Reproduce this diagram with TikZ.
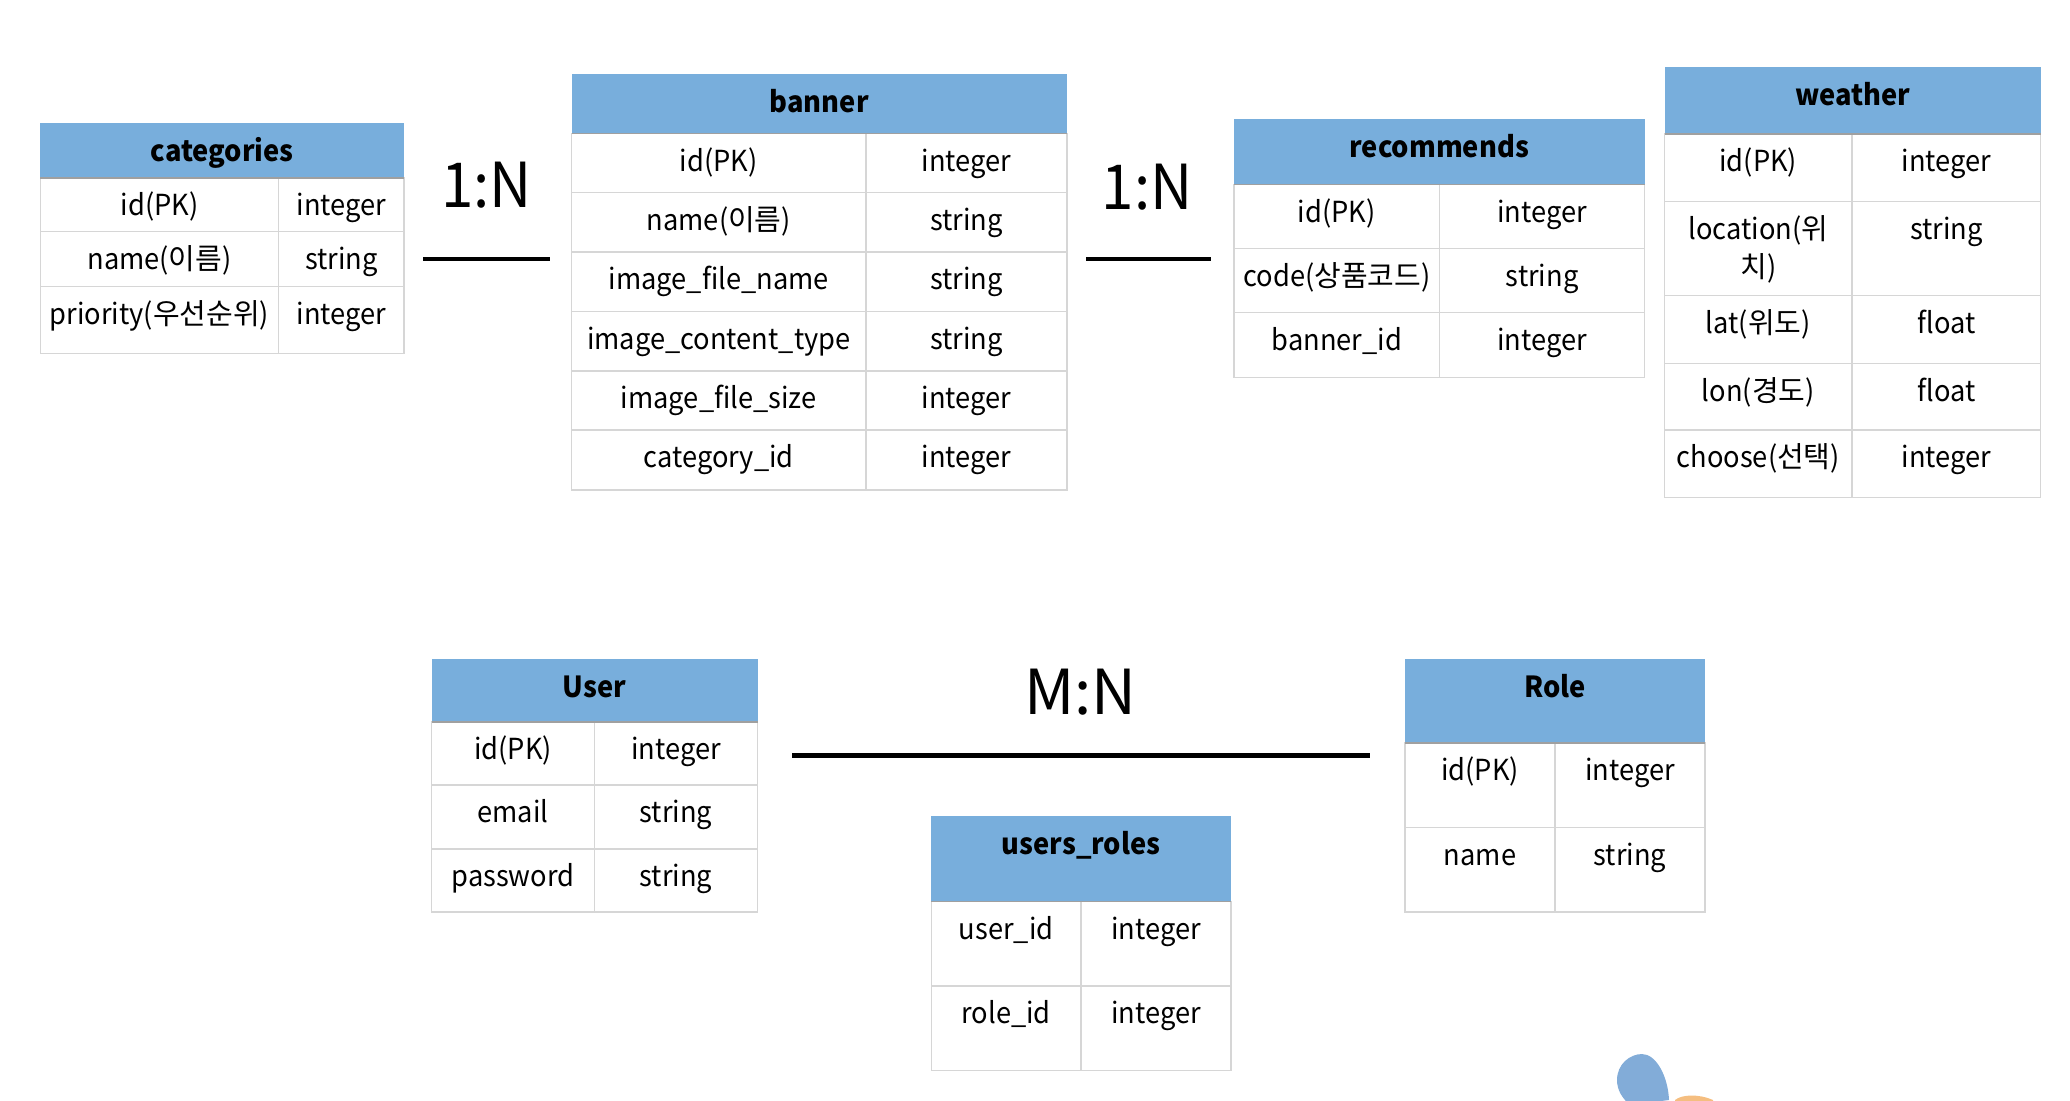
\documentclass[tikz,border=0pt]{standalone}
\usepackage{fontspec}
\setmainfont[FakeStretch=0.94]{Noto Sans CJK KR}
\newfontfamily\hangul{Noto Sans CJK KR}
\definecolor{headblue}{HTML}{78AEDC}
\definecolor{gridgray}{HTML}{D6D6D6}
\definecolor{headgray}{HTML}{A0A0A0}
\definecolor{petalblue}{HTML}{82ACD8}
\definecolor{petalorange}{HTML}{F5BE80}
\tikzset{
 gridline/.style={draw=gridgray,line width=0.6pt},
 headline/.style={draw=headgray,line width=0.8pt},
 celltext/.style={anchor=base,inner sep=0pt,font=\fontsize{14.5}{19.3}\selectfont},
 headtext/.style={anchor=base,inner sep=0pt,font=\fontsize{14.5}{19.3}\selectfont\bfseries},
 ratiotext/.style={anchor=base,inner sep=0pt,font=\fontsize{31}{36}\selectfont},
 ratioline/.style={line width=2.2pt,black}
}
%table: name, title, x left, x split, x right, y top, y header, rows
\newcommand{\dbtable}[8]{
 \foreach \ya/\yb/\fa/\fb [count=\n] in {#8}{
  \draw[gridline](#3,\ya)rectangle(#4,\yb);
  \draw[gridline](#4,\ya)rectangle(#5,\yb);
  \node[celltext](#1-\n-a) at ({(#3+#4)/2},\ya+37.7){\fa};
  \node[celltext](#1-\n-b) at ({(#4+#5)/2},\ya+37.7){\fb};
 }
 \fill[headblue](#3,#6)rectangle(#5,#7);
 \draw[headline](#3,#7)--(#5,#7);
 \node[headtext](#1-title) at ({(#3+#5)/2},#6+38.5){#2};
}
\begin{document}
\begin{tikzpicture}[x=0.5pt,y=-0.5pt]
\useasboundingbox(0,0)rectangle(2070,1100);
%top row
\dbtable{categories}{categories}{40.4}{278.6}{404}{123.3}{177.7}{
 177.7/231.7/id(PK)/integer,
 231.7/286.7/name({\hangul 이름})/string,
 286.7/353.3/priority({\hangul 우선순위})/integer}
\dbtable{banner}{banner}{571.6}{866}{1067}{73.5}{133.3}{
 133.3/192.7/id(PK)/integer,
 192.7/252/name({\hangul 이름})/string,
 252/311.7/image\_file\_name/string,
 311.7/371/image\_content\_type/string,
 371/430/image\_file\_size/integer,
 430/490/category\_id/integer}
\dbtable{recommends}{recommends}{1233.9}{1439.7}{1644.5}{119.3}{184.3}{
 184.3/248.3/id(PK)/integer,
 248.3/312.3/code({\hangul 상품코드})/string,
 312.3/377.3/banner\_id/integer}
\dbtable{weather}{weather}{1664.5}{1852}{2040.7}{67.3}{134}{
 134/201.3/id(PK)/integer,
 201.3/295.7/{\begin{tabular}[t]{@{}c@{}}location({\hangul 위}\\{\hangul 치})\end{tabular}}/string,
 295.7/363.3/lat({\hangul 위도})/float,
 363.3/430/lon({\hangul 경도})/float,
 430/497.3/choose({\hangul 선택})/integer}
%bottom row
\dbtable{user}{User}{431.5}{594.5}{757.5}{658.5}{722}{
 722/785/id(PK)/integer,
 785/849/email/string,
 849/912/password/string}
\dbtable{role}{Role}{1405}{1555}{1705}{658.5}{743}{
 743/827.6/id(PK)/integer,
 827.6/912/name/string}
\dbtable{usersroles}{users\_roles}{931.3}{1081}{1231}{816.4}{901.6}{
 901.6/986/user\_id/integer,
 986/1070.7/role\_id/integer}
%ratios
\node[ratiotext](ratioa) at (486.5,207){1:N};
\coordinate(ratioaL) at (423,259);
\coordinate(ratioaR) at (550,259);
\draw[ratioline](ratioaL)--(ratioaR);
\node[ratiotext](ratiob) at (1147,209){1:N};
\coordinate(ratiobL) at (1086,259);
\coordinate(ratiobR) at (1211,259);
\draw[ratioline](ratiobL)--(ratiobR);
\node[ratiotext,font=\fontsize{31}{36}\hangul](ratioc) at (1080.6,714){M:N};
\coordinate(ratiocL) at (792,755.6);
\coordinate(ratiocR) at (1370,755.6);
\draw[ratioline](ratiocL)--(ratiocR);
%petals cut by the page edge
\begin{scope}
\clip(0,0)rectangle(2070,1100);
\fill[petalblue](1617,1080)..controls(1617,1064)and(1630,1054)..(1642,1054)
 ..controls(1656,1054)and(1668,1076)..(1669,1100)--(1630,1105)..controls(1622,1098)and(1617,1090)..(1617,1080);
\fill[petalorange](1675,1100)..controls(1682,1094)and(1700,1094)..(1713,1100)--(1713,1105)--(1675,1105)--cycle;
\end{scope}
\end{tikzpicture}
\end{document}
